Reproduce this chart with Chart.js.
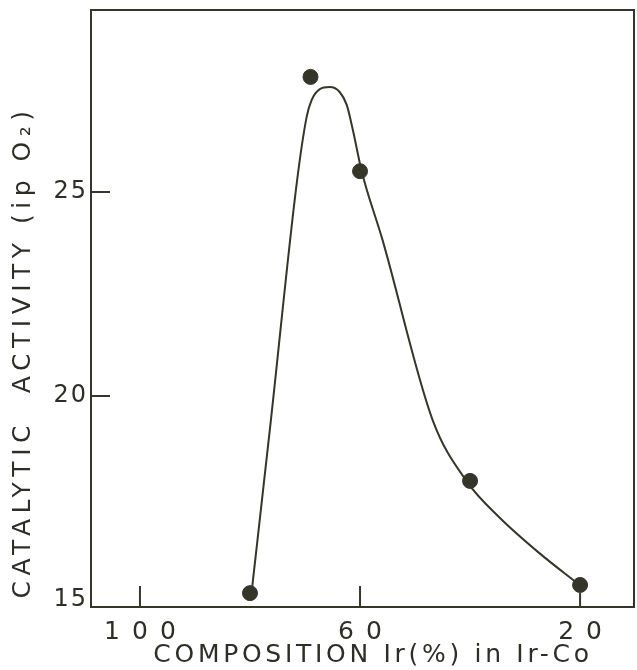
<!DOCTYPE html>
<html>
<head>
<meta charset="utf-8">
<script src="https://cdn.jsdelivr.net/npm/chart.js@4"></script>
<style>
  html, body { margin: 0; padding: 0; background: #fff; }
  #wrap { width: 637px; height: 670px; }
</style>
</head>
<body>
<div id="wrap"><canvas id="chart" width="637" height="670"></canvas></div>
<script>
// measured points
const compositionIr = [80, 69, 60, 40, 20];
const activity = [15.17, 27.82, 25.51, 17.92, 15.37];

// hand drawn curve
const curveIr = [20.1, 27.4, 34.7, 40.5, 46.8, 55.9, 59.7, 61.3, 62.4, 63.7, 65.5, 67.3, 68.8, 69.7, 71.5, 76.2, 79.7];
const curveActivity = [15.37, 16.15, 17.03, 17.89, 19.41, 23.82, 25.51, 26.52, 27.13, 27.45, 27.57, 27.52, 27.25, 26.84, 25.22, 19.41, 15.20];

const xTicks = [100, 60, 20];
const yTicks = [15, 20, 25];
const xInnerTicks = [100, 60, 20];
const yInnerTicks = [25, 20];

const ink = '#35352a';
const textColor = '#2e2e26';

const framePlugin = {
    id: 'frame',
    beforeDraw(chart) {
        // x tick labels are drawn first, with wide spacing
        chart.ctx.letterSpacing = '12px';
    },
    afterDatasetsDraw(chart) {
        const { ctx, chartArea, scales } = chart;
        ctx.save();
        ctx.strokeStyle = ink;
        ctx.lineWidth = 2;
        ctx.strokeRect(chartArea.left, chartArea.top, chartArea.right - chartArea.left, chartArea.bottom - chartArea.top);
        ctx.beginPath();
        xInnerTicks.forEach(v => {
            const px = scales.x.getPixelForValue(v);
            const len = v === 20 ? 14 : 21;
            ctx.moveTo(px, chartArea.bottom);
            ctx.lineTo(px, chartArea.bottom - len);
        });
        yInnerTicks.forEach(v => {
            const py = scales.y.getPixelForValue(v);
            ctx.moveTo(chartArea.left, py);
            ctx.lineTo(chartArea.left + 19, py);
        });
        ctx.stroke();
        ctx.restore();
        // y tick labels come after the datasets (ticks.z = 1)
        ctx.letterSpacing = '2px';
    },
    afterDraw(chart) {
        const { ctx } = chart;
        ctx.save();
        ctx.fillStyle = textColor;
        ctx.textAlign = 'center';
        ctx.textBaseline = 'middle';
        ctx.font = '25px "DejaVu Sans"';
        ctx.letterSpacing = '3.7px';
        ctx.fillText('COMPOSITION Ir(%) in Ir-Co', 373, 655);
        ctx.translate(23, 352);
        ctx.rotate(-Math.PI / 2);
        ctx.letterSpacing = '5.5px';
        ctx.fillText('CATALYTIC  ACTIVITY (ip O\u2082)', 0, 0);
        ctx.restore();
    }
};

new Chart(document.getElementById('chart'), {
    type: 'scatter',
    data: {
        datasets: [
            {
                label: 'curve',
                data: curveIr.map((x, i) => ({ x: x, y: curveActivity[i] })),
                showLine: true,
                cubicInterpolationMode: 'monotone',
                borderColor: ink,
                borderWidth: 2,
                pointRadius: 0,
                fill: false
            },
            {
                label: 'Ir-Co',
                data: compositionIr.map((x, i) => ({ x: x, y: activity[i] })),
                pointRadius: 7.5,
                pointBackgroundColor: ink,
                pointBorderColor: ink,
                pointBorderWidth: 1
            }
        ]
    },
    options: {
        responsive: false,
        animation: false,
        layout: { autoPadding: false, padding: { top: 10, right: 3, left: 0, bottom: 0 } },
        plugins: {
            legend: { display: false },
            tooltip: { enabled: false }
        },
        scales: {
            x: {
                type: 'linear',
                reverse: true,
                min: 10.2,
                max: 108.9,
                afterBuildTicks: scale => { scale.ticks = xTicks.map(v => ({ value: v })); },
                afterFit: scale => {
                    scale.height = 63;
                    scale.paddingLeft = 0;
                    scale.paddingRight = 0;
                },
                grid: { display: false, drawTicks: false },
                border: { display: false },
                ticks: {
                    color: textColor,
                    padding: 10,
                    labelOffset: 6,
                    maxRotation: 0,
                    font: { family: '"DejaVu Sans"', size: 25 }
                }
            },
            y: {
                type: 'linear',
                min: 14.83,
                max: 29.46,
                afterBuildTicks: scale => { scale.ticks = yTicks.map(v => ({ value: v })); },
                afterFit: scale => {
                    scale.width = 91;
                    scale.paddingTop = 0;
                    scale.paddingBottom = 0;
                },
                grid: { display: false, drawTicks: false },
                border: { display: false },
                ticks: {
                    z: 1,
                    color: textColor,
                    padding: 3,
                    font: { family: '"DejaVu Sans"', size: 24 }
                }
            }
        }
    },
    plugins: [framePlugin]
});
</script>
</body>
</html>
